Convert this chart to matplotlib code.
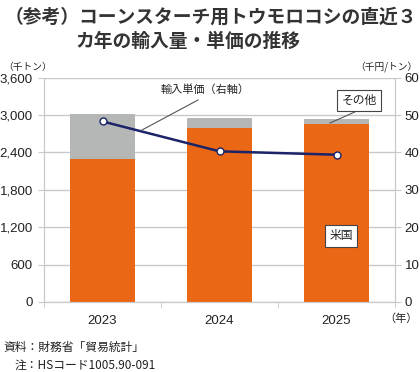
"""Corn imports for cornstarch: volume by origin and unit price, 2023-2025."""

import matplotlib
matplotlib.use("Agg")
import matplotlib.pyplot as plt
from matplotlib.ticker import FuncFormatter, FixedLocator

plt.rcParams['font.family'] = ['Noto Sans CJK JP', 'DejaVu Sans']

years = ["2023", "2024", "2025"]
us_volume = [2290, 2800, 2850]          # 千トン
other_volume = [730, 160, 80]           # 千トン
unit_price = [48.3, 40.3, 39.4]         # 千円/トン

left_ticks = [0, 600, 1200, 1800, 2400, 3000, 3600]
right_ticks = [0, 10, 20, 30, 40, 50, 60]

ORANGE = "#EA6716"
GRAY = "#B5B7B6"
NAVY = "#1B2468"
GRID = "#C9C9C9"
TEXT = "#222222"
NUM_FONT = "Liberation Sans"

fig = plt.figure(figsize=(4.2, 3.72), dpi=100)
ax = fig.add_axes([44 / 420, 70 / 372, 351 / 420, 224.3 / 372])

x = list(range(len(years)))
ax.bar(x, us_volume, width=0.55, color=ORANGE, zorder=2)
ax.bar(x, other_volume, width=0.55, bottom=us_volume, color=GRAY, zorder=2)

ax.set_xlim(-0.5, 2.5)
ax.set_ylim(0, 3600)
ax.set_yticks(left_ticks)
ax.yaxis.set_major_formatter(FuncFormatter(lambda v, p: f"{int(v):,}"))
ax.grid(axis='y', color=GRID, linewidth=1, zorder=0)
ax.set_axisbelow(True)

ax.set_xticks(x)
ax.set_xticklabels(years)
ax.xaxis.set_minor_locator(FixedLocator([-0.5, 0.5, 1.5, 2.5]))
ax.tick_params(axis='x', which='major', length=0, pad=9)
ax.tick_params(axis='x', which='minor', length=4, color=GRID, direction='out')
ax.tick_params(axis='y', length=4, color=GRID, pad=4)
for lab in ax.get_xticklabels() + ax.get_yticklabels():
    lab.set_fontfamily(NUM_FONT)
    lab.set_fontsize(9.5)
    lab.set_color(TEXT)

ax.spines['top'].set_visible(False)
for side in ['left', 'right', 'bottom']:
    ax.spines[side].set_color(GRID)

ax2 = ax.twinx()
ax2.set_ylim(0, 60)
ax2.set_yticks(right_ticks)
ax2.plot(x, unit_price, color=NAVY, linewidth=1.8, marker='o', markersize=5,
         markerfacecolor='white', markeredgecolor=NAVY, markeredgewidth=1, zorder=3)
ax2.tick_params(axis='y', length=4, color=GRID, pad=3)
for lab in ax2.get_yticklabels():
    lab.set_fontfamily(NUM_FONT)
    lab.set_fontsize(9.5)
    lab.set_color(TEXT)
ax2.spines['top'].set_visible(False)
for side in ['left', 'right', 'bottom']:
    ax2.spines[side].set_color(GRID)

# title
fig.text(5 / 420, 1 - 17 / 372, "（参考）コーンスターチ用トウモロコシの直近３",
         fontsize=13.5, weight='bold', color="#333333", va='center', ha='left')
fig.text(75 / 420, 1 - 41 / 372, "カ年の輸入量・単価の推移",
         fontsize=13.5, weight='bold', color="#333333", va='center', ha='left')

# unit labels
fig.text(3 / 420, 1 - 67 / 372, "（千トン）", fontsize=7, color=TEXT, va='center', ha='left')
fig.text(417 / 420, 1 - 67 / 372, "（千円/トン）", fontsize=7, color=TEXT, va='center', ha='right')
fig.text(418 / 420, 1 - 319 / 372, "（年）", fontsize=8, color=TEXT, va='center', ha='right')

# annotations
fig.text(205 / 420, 1 - 90 / 372, "輸入単価（右軸）", fontsize=8, color=TEXT, va='center', ha='center')
fig.add_artist(plt.Line2D([198 / 420, 142 / 420], [1 - 100 / 372, 1 - 130 / 372],
                          color="#555555", linewidth=0.8))

fig.text(359 / 420, 1 - 100.5 / 372, "その他", fontsize=8.5, color=TEXT, va='center', ha='center',
         bbox=dict(boxstyle='square,pad=0.35', facecolor='white', edgecolor="#444444", linewidth=0.8))
fig.add_artist(plt.Line2D([357 / 420, 330 / 420], [1 - 111 / 372, 1 - 123 / 372],
                          color="#555555", linewidth=0.8))

fig.text(341 / 420, 1 - 236 / 372, "米国", fontsize=8.5, color=TEXT, va='center', ha='center',
         bbox=dict(boxstyle='square,pad=0.4', facecolor='white', edgecolor="#444444", linewidth=0.8))

# footer
fig.text(3 / 420, 1 - 347 / 372, "資料：財務省「貿易統計」", fontsize=8.5, color=TEXT, va='center', ha='left')
fig.text(15 / 420, 1 - 365 / 372, "注：HSコード1005.90-091", fontsize=8.5, color=TEXT, va='center', ha='left')

fig.savefig("out.png", dpi=100)
